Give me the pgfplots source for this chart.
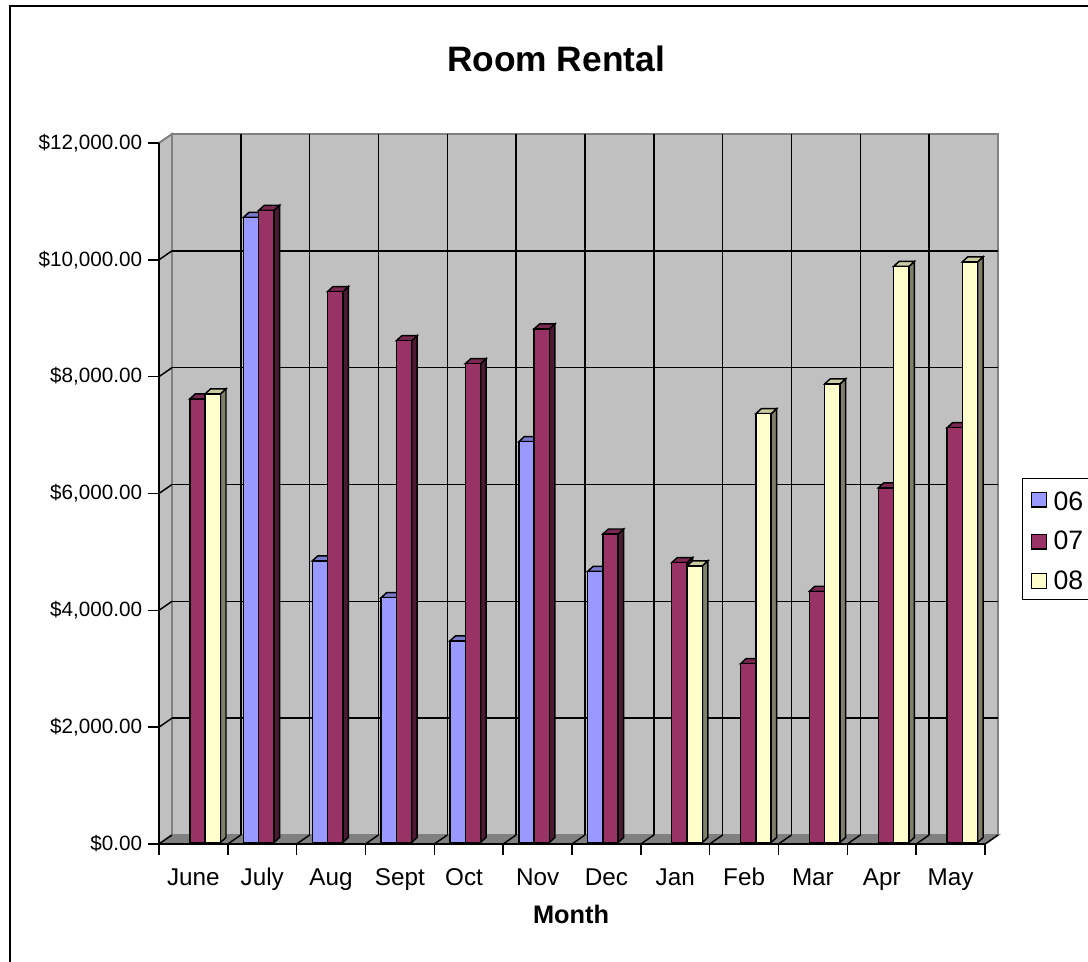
\documentclass[border=0pt]{standalone}
\usepackage{fontspec}
\setmainfont{Liberation Sans}
\usepackage{pgfplots}
\pgfplotsset{compat=1.18}
\definecolor{wall}{HTML}{C0C0C0}
\definecolor{edgeg}{HTML}{808080}
\definecolor{cA}{HTML}{9999FF}
\definecolor{cAt}{HTML}{7A7ACC}
\definecolor{cAs}{HTML}{4D4D80}
\definecolor{cB}{HTML}{993366}
\definecolor{cBt}{HTML}{7A2952}
\definecolor{cBs}{HTML}{4D1A33}
\definecolor{cC}{HTML}{FFFFCC}
\definecolor{cCt}{HTML}{CCCCA3}
\definecolor{cCs}{HTML}{80806A}
\newcommand{\threedbars}[5]{%
  \foreach \m/\v in {#5}{%
    \pgfmathsetmacro\xl{\m+0.2266+#1*0.2223}%
    \pgfmathsetmacro\xr{\xl+0.2223}%
    \pgfmathsetmacro\xrb{\xr+0.08}%
    \pgfmathsetmacro\xlb{\xl+0.08}%
    \pgfmathsetmacro\yt{\v+26}%
    \pgfmathsetmacro\ytb{\yt+86}%
    \pgfmathsetmacro\ybb{26+86}%
    \edef\tmp{%
      \noexpand\addplot[forget plot,draw=black,line width=1.1pt,fill=#4] coordinates {(\xr,26)(\xrb,\ybb)(\xrb,\ytb)(\xr,\yt)} --cycle;
      \noexpand\addplot[forget plot,draw=black,line width=1.1pt,fill=#3] coordinates {(\xl,\yt)(\xlb,\ytb)(\xrb,\ytb)(\xr,\yt)} --cycle;
      \noexpand\addplot[forget plot,draw=black,line width=1.1pt,fill=#2] coordinates {(\xl,26)(\xl,\yt)(\xr,\yt)(\xr,26)} --cycle;
    }\tmp
  }%
}
\begin{document}
\begin{tikzpicture}[x=1pt,y=1pt]
\path[use as bounding box,fill=white] (0,0) rectangle (816,721.5);
\draw[line width=1.4pt,black] (7.7,-5) -- (7.7,717) -- (825,717);
\begin{axis}[
  at={(119.25pt,88.5pt)},anchor=origin,
  scale only axis,width=619.5pt,height=525.75pt,
  xmin=0,xmax=12,ymin=0,ymax=12000,
  clip=false,axis on top,scaled y ticks=false,
  axis x line=bottom,axis y line=left,axis line style={-,line width=1.1pt},
  tick align=outside,
  every tick/.style={black,line width=1.1pt},
  major tick length=8pt,
  xtick={0,1,2,3,4,5,6,7,8,9,10,11,12},
  x tick label as interval,
  xticklabels={June,July,Aug,Sept,{Oct\hspace*{7pt}},Nov,Dec,Jan,Feb,Mar,Apr,May},
  ytick={0,2000,4000,6000,8000,10000,12000},
  yticklabels={{\$0.00},{\$2,000.00},{\$4,000.00},{\$6,000.00},{\$8,000.00},{\$10,000.00},{\$12,000.00}},
  yticklabel style={font=\fontsize{15.5}{18}\selectfont,inner sep=0pt,xshift=-4.5pt},
  xticklabel style={font=\fontsize{18.2}{22}\selectfont,text height=13pt,text depth=4pt,inner sep=0pt,yshift=-10pt},
  title={\textbf{Room Rental}},
  title style={font=\fontsize{26.5}{30}\selectfont,at={(axis description cs:0.4806,1.1084)},anchor=center},
  xlabel={\textbf{Month}},
  xlabel style={font=\fontsize{19}{22}\selectfont,at={(axis description cs:0.4988,-0.101)},anchor=center},
  legend style={at={(axis description cs:1.0448,0.5221)},anchor=north west,draw=black,line width=1pt,
    font=\fontsize{20}{24}\selectfont,inner xsep=6pt,inner ysep=4pt,row sep=10pt,
    cells={anchor=west},fill=white},
  legend image code/.code={\draw[#1,line width=1pt] (0pt,-5.6pt) rectangle (11.2pt,5.6pt);},
]
\addlegendimage{draw=black,fill=cA}
\addlegendimage{draw=black,fill=cB}
\addlegendimage{draw=black,fill=cC}
\legend{{\rule{0pt}{18pt}\hspace*{3pt}06\hspace*{12pt}},{\hspace*{3pt}07\hspace*{12pt}},{\hspace*{3pt}08\hspace*{12pt}}}
% walls and floor
\addplot[forget plot,draw=edgeg,line width=1.4pt,fill=wall] coordinates {(0,0)(0.1889,154)(0.1889,12154)(0,12000)} --cycle;
\addplot[forget plot,draw=edgeg,line width=1.4pt,fill=wall] coordinates {(0.1889,154)(0.1889,12154)(12.1889,12154)(12.1889,154)} --cycle;
\addplot[forget plot,draw=edgeg,line width=1.4pt,fill=edgeg] coordinates {(0,0)(12,0)(12.1889,154)(0.1889,154)} --cycle;
% grid on wall
\foreach \yy/\yb in {2000/2154,4000/4154,6000/6154,8000/8154,10000/10154}{%
  \edef\tmp{\noexpand\addplot[forget plot,black,line width=1.1pt] coordinates {(0.1889,\yb)(12.1889,\yb)};
  \noexpand\addplot[forget plot,black,line width=1.1pt] coordinates {(0,\yy)(0.1889,\yb)};}\tmp
}
\addplot[forget plot,black,line width=1.1pt] coordinates {(0,0)(0.1889,154)};
\addplot[forget plot,edgeg,line width=1.1pt] coordinates {(0,12000)(0.1889,12154)};
\foreach \k/\kb in {1/1.1889,2/2.1889,3/3.1889,4/4.1889,5/5.1889,6/6.1889,7/7.1889,8/8.1889,9/9.1889,10/10.1889,11/11.1889}{%
  \edef\tmp{\noexpand\addplot[forget plot,black,line width=1.1pt] coordinates {(\kb,154)(\kb,12154)};
  \noexpand\addplot[forget plot,black,line width=1.1pt] coordinates {(\k,0)(\kb,154)};}\tmp
}
\addplot[forget plot,black,line width=1.1pt] coordinates {(12,0)(12.1889,154)};
% bars: month index / value
\threedbars{0}{cA}{cAt}{cAs}{1/10700,2/4820,3/4190,4/3450,5/6860,6/4640}
\threedbars{1}{cB}{cBt}{cBs}{0/7594,1/10820,2/9430,3/8590,4/8195,5/8790,6/5280,7/4790,8/3060,9/4300,10/6070,11/7100}
\threedbars{2}{cC}{cCt}{cCs}{0/7680,7/4735,8/7340,9/7850,10/9860,11/9940}
\end{axis}
\end{tikzpicture}
\end{document}
